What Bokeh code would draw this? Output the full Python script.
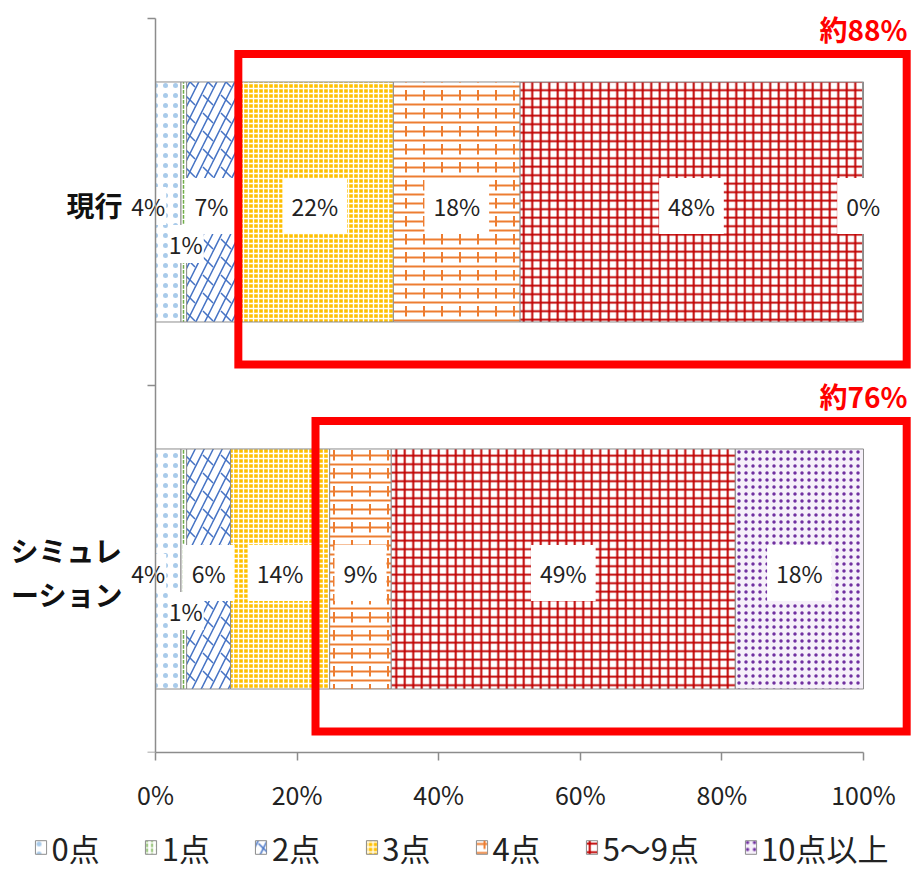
from bokeh.plotting import figure
from bokeh.layouts import column
from bokeh.models import Range1d, FixedTicker, ColumnDataSource, Legend, LegendItem
from bokeh.embed import file_html
from bokeh.resources import INLINE
from bokeh.core.properties import value

# ---------------- data ----------------
categories = ["現行", "シミュレーション"]
category_tick_labels = ["現行", "シミュレ\nーション"]
series_names = ["0点", "1点", "2点", "3点", "4点", "5～9点", "10点以上"]
current_pct = [3.6, 0.8, 7.0, 22.2, 17.9, 48.4, 0.1]
simulation_pct = [3.6, 0.8, 6.2, 14.0, 8.7, 48.6, 18.1]
x_tick_values = [0, 20, 40, 60, 80, 100]
boxed_from_series = [3, 4]   # first series inside the red callout box, per category

values = [current_pct, simulation_pct]

# ---------------- style ----------------
FONT = "Noto Sans CJK JP"
GREY = "#8C8C8C"
BAR_H = 0.654
series_layers = [
    [dict(fill_color="white", hatch_pattern="dot", hatch_color="#A9CBEA", hatch_scale=10, hatch_weight=0.5)],
    [dict(fill_color="white", hatch_pattern="vertical_dash", hatch_color="#70AD47", hatch_scale=5, hatch_weight=1.5)],
    [dict(fill_color="white", hatch_pattern="right_diagonal_line", hatch_color="#4472C4", hatch_scale=18, hatch_weight=1.5),
     dict(fill_color=None, hatch_pattern="left_diagonal_dash", hatch_color="#4472C4", hatch_scale=18, hatch_weight=1.5)],
    [dict(fill_color="#FFC000", hatch_pattern="cross", hatch_color="white", hatch_scale=5, hatch_weight=1.4)],
    [dict(fill_color="white", hatch_pattern="horizontal_line", hatch_color="#ED7D31", hatch_scale=9, hatch_weight=2),
     dict(fill_color=None, hatch_pattern="vertical_dash", hatch_color="#ED7D31", hatch_scale=18, hatch_weight=2)],
    [dict(fill_color="white", hatch_pattern="cross", hatch_color="#C00000", hatch_scale=8.5, hatch_weight=2)],
    [dict(fill_color="#F6F0FA", hatch_pattern="dot", hatch_color="#7030A0", hatch_scale=7, hatch_weight=5)],
]

n_cat = len(categories)
y_centers = [n_cat - i - 0.5 for i in range(n_cat)]

p = figure(width=912, height=822, x_range=Range1d(-20.48, 106.92), y_range=Range1d(0, n_cat + 0.049),
           output_backend="svg", toolbar_location=None,
           min_border_left=10, min_border_right=0, min_border_top=0, min_border_bottom=70)
p.outline_line_color = None
p.xgrid.visible = False
p.ygrid.visible = False

# cumulative starts
starts = []
for c in range(n_cat):
    acc, row = 0.0, []
    for v in values[c]:
        row.append(acc)
        acc += v
    starts.append(row)

# legend strip below the chart (its ranges keep the bars out of view; only the legend shows)
pl = figure(width=912, height=50, x_range=Range1d(-1000, -999), y_range=Range1d(0, 1),
            output_backend="svg", toolbar_location=None, x_axis_location=None, y_axis_location=None,
            min_border=0)
pl.outline_line_color = None
pl.xgrid.visible = False
pl.ygrid.visible = False

legend_items = []
for s, name in enumerate(series_names):
    src = ColumnDataSource(dict(
        y=y_centers,
        left=[starts[c][s] for c in range(n_cat)],
        right=[starts[c][s] + values[c][s] for c in range(n_cat)],
    ))
    rs = []
    for k, st in enumerate(series_layers[s]):
        p.hbar(y="y", left="left", right="right", height=BAR_H, source=src,
               line_color=GREY if k == 0 else None, line_width=1, **st)
        r = pl.hbar(y="y", left="left", right="right", height=BAR_H, source=src,
                    line_color=GREY if k == 0 else None, line_width=1, **st)
        rs.append(r)
    legend_items.append(LegendItem(label=name, renderers=rs))

# ---------------- data labels ----------------
in_x, in_y, in_t, out_x, out_y, out_t, out_xo, out_yo = [], [], [], [], [], [], [], []
for c in range(n_cat):
    for s in range(len(series_names)):
        v = values[c][s]
        cx = starts[c][s] + v / 2
        txt = f"{round(v)}%"
        if s == 0:
            out_x.append(cx); out_y.append(y_centers[c]); out_t.append(txt); out_xo.append(-20); out_yo.append(4)
        elif s == 1:
            out_x.append(cx); out_y.append(y_centers[c]); out_t.append(txt); out_xo.append(2); out_yo.append(42)
        else:
            in_x.append(cx); in_y.append(y_centers[c]); in_t.append(txt)

p.text(x=in_x, y=in_y, text=in_t, y_offset=4, text_align="center", text_baseline="middle",
       text_font=value(FONT), text_font_size="23px", text_color="#222222",
       background_fill_color="white", padding=dict(left=9, right=9, top=11, bottom=11))
p.text(x=out_x, y=out_y, text=out_t, x_offset=out_xo, y_offset=out_yo, text_align="center",
       text_baseline="middle", text_font=value(FONT), text_font_size="23px", text_color="#222222",
       background_fill_color="white", padding=dict(left=1, right=1, top=2, bottom=2))

# category labels (left of the value axis)
p.text(x=[0] * n_cat, y=y_centers, text=category_tick_labels, x_offset=-33, y_offset=3,
       text_align="right", text_baseline="middle", text_font=value(FONT), text_font_size="28px",
       text_font_style="bold", text_color="#111111", text_line_height=1.12)

# ---------------- callout boxes ----------------
box_left_pad = [-0.3, 2.0]
box_right = 106.1
box_top_off, box_bottom_off = 0.403, 0.443
bx0, bx1, bt, bb, ctext, cx_, cy_ = [], [], [], [], [], [], []
for c in range(n_cat):
    f = boxed_from_series[c]
    bx0.append(starts[c][f] - box_left_pad[c])
    bx1.append(box_right)
    bt.append(y_centers[c] + box_top_off)
    bb.append(y_centers[c] - box_bottom_off)
    total = sum(round(v) for v in values[c][f:])
    ctext.append(f"約{total}%")
    cx_.append(106.2)
    cy_.append(y_centers[c] + box_top_off + 0.015)
p.quad(left=bx0, right=bx1, top=bt, bottom=bb, fill_color=None, line_color="#FF0000",
       line_width=8, line_join="miter")
p.text(x=cx_, y=cy_, text=ctext, text_align="right", text_baseline="bottom",
       text_font=value(FONT), text_font_size="28px", text_font_style="bold", text_color="#FF0000")

# ---------------- axes ----------------
xa = p.xaxis[0]
xa.ticker = FixedTicker(ticks=x_tick_values)
xa.major_label_overrides = {t: f"{t}%" for t in x_tick_values}
xa.bounds = (0, 100)
xa.minor_tick_line_color = None
xa.major_tick_out = 8
xa.major_tick_in = 0
xa.axis_line_color = GREY
xa.axis_line_width = 1.5
xa.major_tick_line_color = GREY
xa.major_tick_line_width = 1.5
xa.major_label_standoff = 15
xa.major_label_text_font = FONT
xa.major_label_text_font_size = "25px"
xa.major_label_text_color = "#222222"

ya = p.yaxis[0]
ya.fixed_location = 0
ya.bounds = (0, n_cat)
ya.ticker = FixedTicker(ticks=[], minor_ticks=[float(i) for i in range(n_cat + 1)])
ya.major_tick_line_color = None
ya.major_tick_out = 0
ya.major_tick_in = 0
ya.minor_tick_out = 8
ya.minor_tick_in = 0
ya.minor_tick_line_color = GREY
ya.minor_tick_line_width = 1.5
ya.axis_line_color = GREY
ya.axis_line_width = 1.5
ya.major_label_text_font_size = "0px"
ya.major_label_standoff = 0

# ---------------- legend ----------------
legend = Legend(items=legend_items, orientation="horizontal", location="center",
                label_text_font=FONT, label_text_font_size="31px", label_text_color="#222222",
                glyph_width=14, glyph_height=17, label_standoff=4, spacing=44,
                padding=0, margin=0, border_line_color=None, background_fill_alpha=0)
pl.add_layout(legend)

open("out.html", "w").write(file_html(column(p, pl), INLINE))
